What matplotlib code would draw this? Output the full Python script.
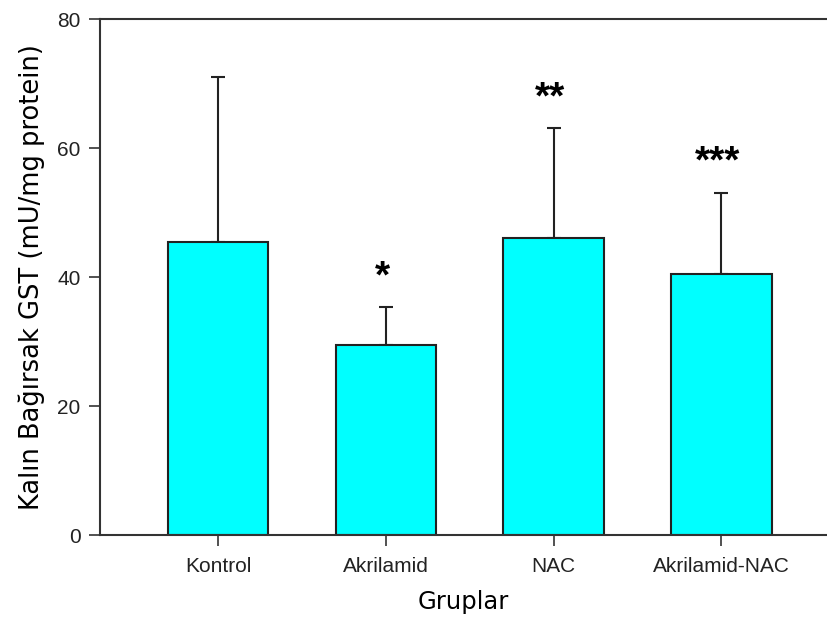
import matplotlib
matplotlib.use("Agg")
import matplotlib.pyplot as plt

# veriler (grafikten okunan ortalama ve standart sapma)
groups = ["Kontrol", "Akrilamid", "NAC", "Akrilamid-NAC"]
means = [45.5, 29.5, 46.0, 40.5]
sds = [25.5, 5.8, 17.1, 12.6]
stars = ["", "*", "**", "***"]

fig = plt.figure(figsize=(8.27, 6.19), dpi=100)
ax = fig.add_axes([0.121, 0.1357, 0.879, 0.8336])

x = list(range(len(groups)))
ax.bar(x, means, width=0.6, color="#00ffff", edgecolor="#222222", linewidth=1.5, zorder=2)
ax.errorbar(x, means, yerr=[[0] * len(sds), sds], fmt="none", ecolor="#222222",
            elinewidth=1.5, capsize=5, capthick=1.5, zorder=1)

# anlamlılık yıldızları
for xi, m, s, st in zip(x, means, sds, stars):
    if st:
        ax.text(xi - 0.02, m + s + 1.8, st, ha="center", va="bottom", fontsize=28,
                fontweight="bold", family="Liberation Sans")

ax.set_xlim(-0.704, 3.63)
ax.set_ylim(0, 80)
ax.set_yticks([0, 20, 40, 60, 80])
ax.set_xticks(x)
ax.set_xticklabels(groups)

for sp in ["left", "bottom", "top"]:
    ax.spines[sp].set_linewidth(1.5)
    ax.spines[sp].set_color("#333333")
ax.spines["right"].set_visible(False)

ax.tick_params(axis="both", direction="out", length=8, width=1.2, color="#333333",
               labelsize=15)
ax.tick_params(axis="x", pad=8)
ax.tick_params(axis="y", pad=6)
for lab in ax.get_xticklabels() + ax.get_yticklabels():
    lab.set_family("Liberation Sans")
    lab.set_color("#222222")

ax.set_ylabel("Kalın Bağırsak GST (mU/mg protein)", fontsize=18.5, labelpad=9)
ax.set_xlabel("Gruplar", fontsize=17.5, labelpad=10)

fig.savefig("out.png", dpi=100, facecolor="white")
